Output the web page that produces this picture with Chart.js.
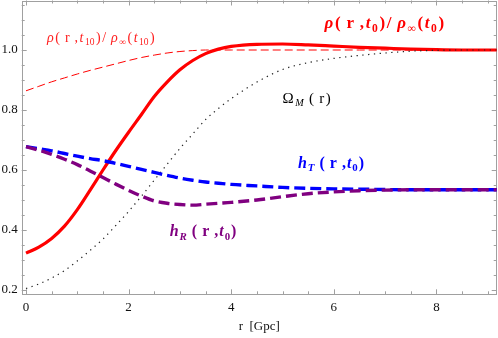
<!DOCTYPE html>
<html><head><meta charset="utf-8">
<script src="https://cdn.jsdelivr.net/npm/chart.js@4.4.0/dist/chart.umd.min.js"></script>
<style>html,body{margin:0;padding:0;background:#fff;overflow:hidden}#wrap{width:498px;height:338px}</style>
</head><body><div id="wrap"><canvas id="c" width="498" height="338"></canvas></div>
<script>
// ---- data ----
const rValues = [0,0.25,0.5,0.75,1,1.25,1.5,1.75,2,2.25,2.5,2.75,3,3.25,3.5,3.75,4,4.5,5,5.5,6,6.5,7,7.5,8,8.5,9,9.2];
const rhoT0   = [0.323,0.343,0.372,0.413,0.468,0.533,0.6,0.665,0.726,0.785,0.845,0.893,0.934,0.965,0.988,1.003,1.012,1.019,1.02,1.017,1.013,1.009,1.006,1.003,1.001,1.0,1.0,1.0];
const rhoT10  = [0.864,0.879,0.894,0.907,0.92,0.932,0.943,0.954,0.965,0.975,0.983,0.99,0.995,0.998,1.0,1.0,1.0,1.0,1.0,1.0,1.0,1.0,1.0,1.0,1.0,1.0,1.0,1.0];
const omegaM  = [0.205,0.22,0.24,0.265,0.297,0.332,0.37,0.415,0.462,0.513,0.566,0.619,0.672,0.72,0.768,0.805,0.838,0.893,0.935,0.958,0.972,0.982,0.99,0.996,0.999,1.0,1.0,1.0];
const hT      = [0.678,0.671,0.664,0.655,0.646,0.638,0.631,0.622,0.612,0.602,0.592,0.582,0.573,0.566,0.56,0.556,0.552,0.547,0.542,0.539,0.537,0.536,0.535,0.534,0.534,0.534,0.534,0.534];
const hR      = [0.678,0.666,0.652,0.636,0.618,0.597,0.575,0.553,0.532,0.513,0.497,0.489,0.485,0.483,0.486,0.489,0.492,0.5,0.511,0.521,0.527,0.531,0.533,0.534,0.534,0.534,0.534,0.534];
const xTickLabels = [0,2,4,6,8];
const yTickLabels = [0.2,0.4,0.6,0.8,1.0];
const xAxisTitle = 'r  [Gpc]';

const pts = ys => rValues.map((x,i)=>({x, y: ys[i]}));
const SERIF = "'Liberation Serif', 'Times New Roman', serif";
Chart.defaults.font.family = SERIF;

// ---- in-plot labels (anchors in data coordinates) ----
const labels = [
  {x:5.82, y:1.073, size:17, gap:1.6, bold:true, color:'#ff0000',
   segs:[['ρ','i'],['(',''],[' r',''],[' ,',''],['t','i'],['0','s'],[')',''],['/',''],[' ρ','i'],['∞','s'],['(',''],['t','i'],['0','s'],[')','']]},
  {x:0.41, y:1.027, size:14, gap:1.5, bold:false, color:'#ff2020',
   segs:[['ρ','i'],['(',''],[' r',''],[' ,',''],['t','i'],['10','s'],[')',''],['/',''],[' ρ','i'],['∞','s'],['(',''],['t','i'],['10','s'],[')','']]},
  {x:5.0, y:0.823, size:15, gap:1.5, bold:false, color:'#000000',
   segs:[['Ω',''],['M','is'],[' (',''],[' r',''],[')','']]},
  {x:5.30, y:0.607, size:16, gap:1.0, bold:true, color:'#0000ff',
   segs:[['h','i'],['T','is'],[' (',''],[' r',''],[' ,',''],['t','i'],['0','s'],[')','']]},
  {x:2.80, y:0.38, size:16, gap:1.0, bold:true, color:'#800080',
   segs:[['h','i'],['R','is'],[' (',''],[' r',''],[' ,',''],['t','i'],['0','s'],[')','']]}
];

const framePlugin = {
  id:'frame',
  beforeDatasetsDraw(chart){
    const {ctx, chartArea:a, scales:{x, y}} = chart;
    ctx.save();
    ctx.strokeStyle = '#a0a0a0';
    ctx.lineWidth = 1;
    ctx.beginPath();
    for (let i=0; i<=18; i++){
      const v = i*0.5;
      const px = Math.round(x.getPixelForValue(v))+0.5;
      const len = (i%4===0) ? 5 : 3;
      ctx.moveTo(px, a.bottom); ctx.lineTo(px, a.bottom-len);
      ctx.moveTo(px, a.top); ctx.lineTo(px, a.top+len);
    }
    for (let i=4; i<=23; i++){
      const v = i*0.05;
      const py = Math.round(y.getPixelForValue(v))+0.5;
      const len = (i%4===0) ? 5 : 3;
      ctx.moveTo(a.left, py); ctx.lineTo(a.left+len, py);
      ctx.moveTo(a.right, py); ctx.lineTo(a.right-len, py);
    }
    ctx.stroke();
    ctx.strokeRect(Math.round(a.left)+0.5, Math.round(a.top)+0.5, Math.round(a.right-a.left)-1, Math.round(a.bottom-a.top)-1);
    ctx.restore();
  },
  afterDatasetsDraw(chart){
    const {ctx, scales:{x, y}} = chart;
    ctx.save();
    ctx.textBaseline = 'alphabetic';
    for (const L of labels){
      let px = x.getPixelForValue(L.x), py = y.getPixelForValue(L.y);
      for (const [t, f] of L.segs){
        const it = f.includes('i'), sub = f.includes('s');
        const sz = sub ? L.size*0.68 : L.size;
        ctx.font = `${it?'italic ':''}${L.bold?'bold ':''}${sz}px ${SERIF}`;
        ctx.fillStyle = L.color;
        ctx.fillText(t, px, py + (sub ? L.size*0.22 : 0));
        px += ctx.measureText(t).width + L.gap;
      }
    }
    ctx.restore();
  }
};

new Chart(document.getElementById('c'), {
  type:'line',
  data:{ datasets:[
    {data:pts(hR), borderColor:'#800080', borderWidth:3.4, borderDash:[11,5], pointRadius:0, cubicInterpolationMode:'monotone', fill:false},
    {data:pts(hT), borderColor:'#0000ff', borderWidth:3.4, borderDash:[11,5], pointRadius:0, cubicInterpolationMode:'monotone', fill:false},
    {data:pts(omegaM), borderColor:'#222222', borderWidth:1.2, borderDash:[1.3,4.5], pointRadius:0, cubicInterpolationMode:'monotone', fill:false},
    {data:pts(rhoT10), borderColor:'#ff0000', borderWidth:1, borderDash:[8,4], pointRadius:0, cubicInterpolationMode:'monotone', fill:false},
    {data:pts(rhoT0), borderColor:'#ff0000', borderWidth:3.2, pointRadius:0, cubicInterpolationMode:'monotone', fill:false}
  ]},
  options:{
    responsive:false, animation:false, devicePixelRatio:1,
    layout:{padding:{top:0.5, right:1.3, left:0, bottom:0}, autoPadding:false},
    plugins:{legend:{display:false}, tooltip:{enabled:false}},
    scales:{
      x:{type:'linear', min:-0.084, max:9.175,
        grid:{display:false, drawTicks:false}, border:{display:false},
        afterBuildTicks:s=>{ s.ticks = xTickLabels.map(v=>({value:v})); },
        afterFit:s=>{ s.height = 43.7; s.paddingLeft = 0; s.paddingRight = 0; },
        ticks:{padding:5, maxRotation:0, autoSkip:false, color:'#111', font:{family:SERIF, size:13}, callback:v=>String(v)},
        title:{display:true, text:xAxisTitle, color:'#111', font:{family:SERIF, size:13}, padding:{top:0, bottom:4}}
      },
      y:{type:'linear', min:0.1857, max:1.165,
        grid:{display:false, drawTicks:false}, border:{display:false},
        afterBuildTicks:s=>{ s.ticks = yTickLabels.map(v=>({value:v})); },
        afterFit:s=>{ s.width = 21.7; s.paddingTop = 0; s.paddingBottom = 0; },
        ticks:{padding:4, autoSkip:false, color:'#111', font:{family:SERIF, size:13}, callback:v=>v.toFixed(1)}
      }
    }
  },
  plugins:[framePlugin]
});
</script></body></html>
